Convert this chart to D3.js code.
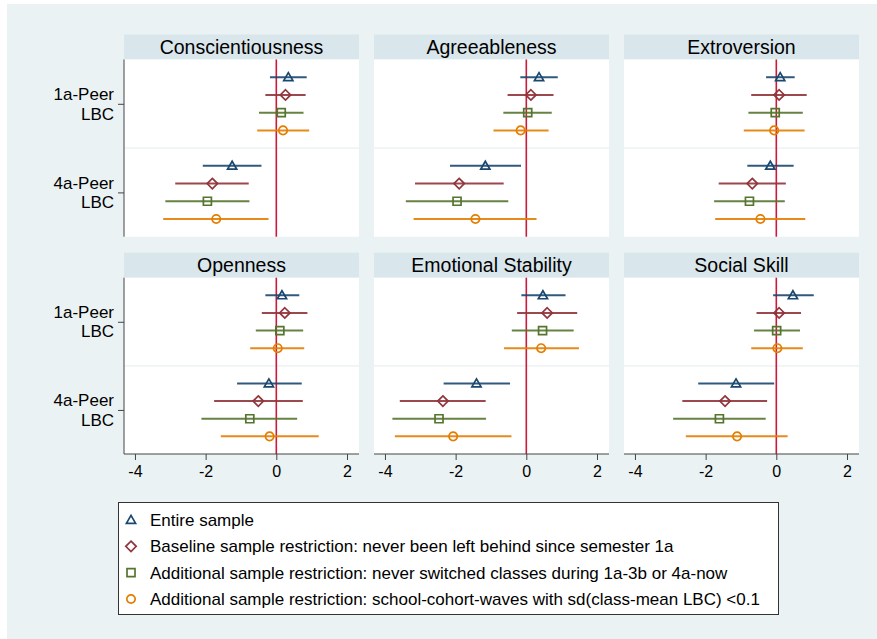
<!DOCTYPE html>
<html>
<head>
<meta charset="utf-8">
<script src="https://cdn.jsdelivr.net/npm/d3@7"></script>
<style>
  html, body { margin: 0; padding: 0; background: #ffffff; }
  svg { display: block; }
  text { font-family: "Liberation Sans", Arial, sans-serif; fill: #000; }
</style>
</head>
<body>
<svg id="chart" width="877" height="639"></svg>
<script>
// ---------------- DATA ----------------
const panels = ["Conscientiousness", "Agreeableness", "Extroversion",
                "Openness", "Emotional Stability", "Social Skill"];
const categories = ["1a-Peer\nLBC", "4a-Peer\nLBC"];
const xTicks = [-4, -2, 0, 2];
const seriesNames = [
  "Entire sample",
  "Baseline sample restriction: never been left behind since semester 1a",
  "Additional sample restriction: never switched classes during 1a-3b or 4a-now",
  "Additional sample restriction: school-cohort-waves with sd(class-mean LBC) <0.1"
];
// per panel: [1a-Peer LBC, 4a-Peer LBC]
const entireEst = [[0.34, -1.25], [0.36, -1.16], [0.11, -0.17], [0.16, -0.21], [0.47, -1.41], [0.47, -1.14]];
const entireLo  = [[-0.18, -2.08], [-0.17, -2.16], [-0.29, -0.82], [-0.31, -1.11], [-0.14, -2.34], [-0.09, -2.21]];
const entireHi  = [[0.86, -0.42], [0.89, -0.15], [0.52, 0.49], [0.65, 0.72], [1.11, -0.46], [1.06, -0.06]];

const baseEst = [[0.26, -1.81], [0.13, -1.90], [0.08, -0.68], [0.24, -0.51], [0.59, -2.36], [0.08, -1.45]];
const baseLo  = [[-0.31, -2.86], [-0.53, -3.15], [-0.71, -1.63], [-0.41, -1.76], [-0.26, -3.58], [-0.56, -2.66]];
const baseHi  = [[0.83, -0.78], [0.77, -0.64], [0.86, 0.27], [0.88, 0.75], [1.44, -1.15], [0.70, -0.26]];

const switchEst = [[0.14, -1.95], [0.04, -1.96], [-0.03, -0.76], [0.10, -0.75], [0.46, -2.47], [0.01, -1.61]];
const switchLo  = [[-0.49, -3.14], [-0.65, -3.41], [-0.79, -1.76], [-0.58, -2.12], [-0.41, -3.79], [-0.63, -2.92]];
const switchHi  = [[0.77, -0.76], [0.72, -0.51], [0.75, 0.24], [0.76, 0.59], [1.34, -1.14], [0.67, -0.30]];

const sdEst = [[0.19, -1.70], [-0.16, -1.44], [-0.06, -0.45], [0.04, -0.19], [0.42, -2.07], [0.03, -1.11]];
const sdLo  = [[-0.54, -3.20], [-0.93, -3.19], [-0.92, -1.73], [-0.74, -1.57], [-0.63, -3.72], [-0.71, -2.56]];
const sdHi  = [[0.93, -0.22], [0.63, 0.29], [0.80, 0.82], [0.79, 1.20], [1.49, -0.42], [0.75, 0.32]];

// ---------------- STYLE / LAYOUT ----------------
const colors = ["#1a476f", "#90353b", "#55752f", "#e37e00"];
const shapes = ["triangle", "diamond", "square", "circle"];
const offsets = [-0.3, -0.1, 0.1, 0.3];
const series = [
  {est: entireEst, lo: entireLo, hi: entireHi},
  {est: baseEst,   lo: baseLo,   hi: baseHi},
  {est: switchEst, lo: switchLo, hi: switchHi},
  {est: sdEst,     lo: sdLo,     hi: sdHi}
];

const svg = d3.select("#chart");
svg.append("rect").attr("x", 7).attr("y", 4).attr("width", 870).attr("height", 635).attr("fill", "#eaf2f3");

const colLeft = [124, 374, 624];
const panelW = 235;
const rowTitleTop = [34.5, 252.7];
const titleH = 25;
const rowPlotBottom = [236.7, 454];

function shapePath(shape) {
  if (shape === "triangle") return "M0,-4.6L4.6,3.4L-4.6,3.4Z";
  if (shape === "diamond") return "M0,-5.2L5.2,0L0,5.2L-5.2,0Z";
  if (shape === "square") return "M-4,-4L4,-4L4,4L-4,4Z";
  return d3.symbol().type(d3.symbolCircle).size(Math.PI * 4.2 * 4.2)();
}

panels.forEach((name, p) => {
  const row = Math.floor(p / 3), col = p % 3;
  const left = colLeft[col];
  const top = rowTitleTop[row] + titleH;
  const bottom = rowPlotBottom[row];
  const g = svg.append("g");

  const x = d3.scaleLinear().domain([-4.31, 2.34]).range([left, left + panelW]);
  const y = d3.scaleLinear().domain([0.5, 2.5]).range([top, bottom]);

  // title bar
  g.append("rect").attr("x", left).attr("y", rowTitleTop[row]).attr("width", panelW).attr("height", titleH)
    .attr("fill", "#d9e6eb");
  g.append("text").attr("x", left + panelW / 2).attr("y", rowTitleTop[row] + titleH / 2)
    .attr("dy", "0.35em").attr("text-anchor", "middle").style("font-size", "19.5px").text(name);

  // plot region
  g.append("rect").attr("x", left).attr("y", top).attr("width", panelW).attr("height", bottom - top)
    .attr("fill", "#ffffff");
  // grid line between groups
  g.append("line").attr("x1", left).attr("x2", left + panelW).attr("y1", y(1.5)).attr("y2", y(1.5))
    .attr("stroke", "#e8eff2").attr("stroke-width", 1.2);

  // reference line at 0
  g.append("line").attr("x1", x(0)).attr("x2", x(0)).attr("y1", top).attr("y2", bottom)
    .attr("stroke", "#cc1a3a").attr("stroke-width", 1.6);

  // data
  series.forEach((s, si) => {
    categories.forEach((c, ci) => {
      const yy = y(ci + 1 + offsets[si]);
      g.append("line").attr("x1", x(s.lo[p][ci])).attr("x2", x(s.hi[p][ci]))
        .attr("y1", yy).attr("y2", yy).attr("stroke", colors[si]).attr("stroke-width", 2).attr("stroke-opacity", 0.9);
    });
  });
  series.forEach((s, si) => {
    categories.forEach((c, ci) => {
      const yy = y(ci + 1 + offsets[si]);
      g.append("path").attr("d", shapePath(shapes[si]))
        .attr("transform", `translate(${x(s.est[p][ci])},${yy})`)
        .attr("fill", "none").attr("stroke", colors[si]).attr("stroke-width", 1.7);
    });
  });

  // y axis on first column
  if (col === 0) {
    const yAxis = d3.axisLeft(y).tickValues([1, 2]).tickSize(6).tickFormat("");
    const ya = g.append("g").attr("transform", `translate(${left},0)`).call(yAxis);
    ya.select(".domain").attr("stroke", "#444").attr("d", `M0,${top}V${bottom}`);
    ya.selectAll(".tick line").attr("stroke", "#444");
    categories.forEach((c, ci) => {
      const lines = c.split("\n");
      lines.forEach((ln, li) => {
        g.append("text").attr("text-anchor", "end").style("font-size", "17px")
          .attr("x", left - 10).attr("y", y(ci + 1) + (li - 0.5) * 19.5).attr("dy", "0.35em").text(ln);
      });
    });
  }
  // x axis on bottom row
  if (row === 1) {
    const xAxis = d3.axisBottom(x).tickValues(xTicks).tickSize(6).tickPadding(6).tickFormat(d3.format("d"));
    const xa = g.append("g").attr("transform", `translate(0,${bottom})`).call(xAxis);
    xa.select(".domain").attr("stroke", "#444").attr("d", `M${left},0H${left + panelW}`);
    xa.selectAll(".tick line").attr("stroke", "#444");
    xa.selectAll(".tick text").style("font-size", "16px").style("font-family", "'Liberation Sans', Arial, sans-serif")
      .attr("fill", "#000").text(d => d < 0 ? "-" + Math.abs(d) : d);
  }
});

// legend
const lg = svg.append("g");
lg.append("rect").attr("x", 118.5).attr("y", 502.5).attr("width", 660).attr("height", 112)
  .attr("fill", "#ffffff").attr("stroke", "#333").attr("stroke-width", 1);
const legendY = d3.scalePoint().domain(d3.range(seriesNames.length)).range([520, 599]);
seriesNames.forEach((nm, i) => {
  lg.append("path").attr("d", shapePath(shapes[i]))
    .attr("transform", `translate(131,${legendY(i)})`)
    .attr("fill", "none").attr("stroke", colors[i]).attr("stroke-width", 1.7);
  lg.append("text").attr("x", 150).attr("y", legendY(i)).attr("dy", "0.35em")
    .style("font-size", "17px").text(nm);
});
</script>
</body>
</html>
